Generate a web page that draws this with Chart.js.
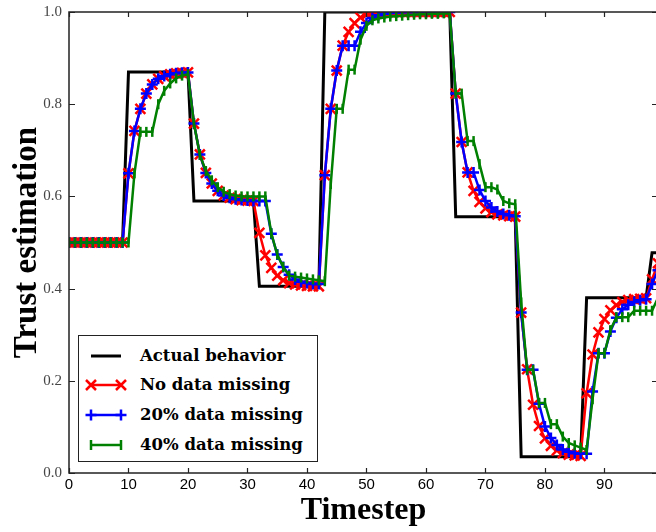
<!DOCTYPE html>
<html><head><meta charset="utf-8">
<script src="https://cdn.jsdelivr.net/npm/chart.js@4.4.0/dist/chart.umd.min.js"></script>
<style>
html,body{margin:0;padding:0;background:#fff;}
#wrap{position:relative;width:656px;height:532px;overflow:hidden;background:#fff;}
#inner{position:absolute;left:0;top:0;width:662px;height:532px;}
#c{position:absolute;left:0;top:0;}
#legend{position:absolute;left:78px;top:335px;width:238px;height:125px;border:1.5px solid #222;background:#fff;box-sizing:content-box;}
#legend canvas{position:absolute;left:0;top:0;}
#legend span{position:absolute;left:61px;height:20px;line-height:20px;font-family:"DejaVu Serif";font-weight:bold;font-size:16.5px;color:#000;white-space:nowrap;}
</style></head>
<body>
<div id="wrap">
<div id="inner"><canvas id="c" width="662" height="532"></canvas></div>
<div id="legend"><canvas id="lg" width="60" height="125"></canvas></div>
</div>
<script>
// ---- data ----
const timesteps = [0,1,2,3,4,5,6,7,8,9,10,11,12,13,14,15,16,17,18,19,20,21,22,23,24,25,26,27,28,29,30,31,32,33,34,35,36,37,38,39,40,41,42,43,44,45,46,47,48,49,50,51,52,53,54,55,56,57,58,59,60,61,62,63,64,65,66,67,68,69,70,71,72,73,74,75,76,77,78,79,80,81,82,83,84,85,86,87,88,89,90,91,92,93,94,95,96,97,98,99];

const seriesNames = ['Actual behavior','No data missing','20% data missing','40% data missing'];

const actualBehavior = [
0.5,0.5,0.5,0.5,0.5,0.5,0.5,0.5,0.5,0.5,
0.87,0.87,0.87,0.87,0.87,0.87,0.87,0.87,0.87,0.87,0.87,
0.59,0.59,0.59,0.59,0.59,0.59,0.59,0.59,0.59,0.59,0.59,
0.405,0.405,0.405,0.405,0.405,0.405,0.405,0.405,0.405,0.405,0.405,
1.0,1.0,1.0,1.0,1.0,1.0,1.0,1.0,1.0,1.0,1.0,1.0,1.0,1.0,1.0,1.0,1.0,1.0,1.0,1.0,1.0,1.0,
0.556,0.556,0.556,0.556,0.556,0.556,0.556,0.556,0.556,0.556,0.556,
0.035,0.035,0.035,0.035,0.035,0.035,0.035,0.035,0.035,0.035,0.035,
0.38,0.38,0.38,0.38,0.38,0.38,0.38,0.38,0.38,0.38,0.38,
0.478,0.478];

const noDataMissing = [
0.5,0.5,0.5,0.5,0.5,0.5,0.5,0.5,0.5,0.5,
0.65,0.742,0.79,0.823,0.843,0.855,0.861,0.865,0.867,0.868,0.869,
0.758,0.691,0.651,0.628,0.612,0.602,0.597,0.594,0.592,0.591,0.59,
0.521,0.472,0.445,0.428,0.418,0.412,0.409,0.407,0.406,0.405,0.405,
0.646,0.79,0.873,0.927,0.957,0.976,0.988,0.994,0.997,0.998,0.999,1.0,1.0,1.0,1.0,1.0,1.0,1.0,1.0,1.0,1.0,1.0,
0.823,0.718,0.652,0.612,0.588,0.574,0.566,0.561,0.559,0.557,0.556,
0.348,0.225,0.148,0.102,0.075,0.059,0.049,0.043,0.04,0.038,0.037,
0.173,0.257,0.305,0.334,0.353,0.364,0.371,0.375,0.377,0.378,0.379,
0.42,0.455];

const missing20 = [
0.5,0.5,0.5,0.5,0.5,0.5,0.5,0.5,0.5,0.5,
0.65,0.742,0.79,0.823,0.843,0.855,0.861,0.865,0.867,0.868,0.869,
0.758,0.691,0.651,0.628,0.612,0.602,0.597,0.594,0.592,0.591,0.59,
0.59,0.59,0.519,0.474,0.447,0.43,0.42,0.415,0.412,0.41,0.41,
0.646,0.79,0.873,0.927,0.927,0.927,0.957,0.976,0.987,0.993,0.996,0.998,0.999,1.0,1.0,1.0,1.0,1.0,1.0,1.0,1.0,1.0,
0.823,0.718,0.652,0.652,0.614,0.59,0.576,0.567,0.562,0.559,0.557,
0.348,0.224,0.224,0.15,0.101,0.076,0.061,0.051,0.046,0.043,0.042,
0.042,0.177,0.26,0.26,0.307,0.337,0.355,0.365,0.371,0.375,0.377,
0.41,0.44];

const missing40 = [
0.5,0.5,0.5,0.5,0.5,0.5,0.5,0.5,0.5,0.5,
0.5,0.65,0.74,0.74,0.74,0.80,0.829,0.845,0.856,0.862,0.865,
0.758,0.69,0.655,0.635,0.62,0.61,0.605,0.602,0.6,0.6,0.6,
0.6,0.6,0.52,0.474,0.447,0.428,0.426,0.424,0.422,0.42,0.418,
0.416,0.627,0.79,0.79,0.875,0.875,0.94,0.97,0.982,0.986,0.988,0.99,0.991,0.992,0.993,0.994,0.995,0.995,0.996,0.996,0.997,0.997,
0.823,0.823,0.72,0.72,0.67,0.62,0.62,0.615,0.59,0.585,0.583,
0.37,0.224,0.224,0.152,0.152,0.106,0.106,0.079,0.065,0.06,0.055,
0.05,0.16,0.26,0.26,0.31,0.338,0.338,0.338,0.352,0.352,0.352,
0.352,0.38];

const xTickStep = 10;
const yTickStep = 0.2;

// ---- helpers ----
function pts(vals){ return timesteps.map((t,i)=>({x:t, y:vals[i]})); }

const framePlugin = {
  id:'frame',
  afterDatasetsDraw(chart){
    const {ctx, chartArea:a, scales:{x, y}} = chart;
    ctx.save();
    ctx.strokeStyle = '#222';
    ctx.lineWidth = 1.5;
    ctx.strokeRect(a.left, a.top, a.right - a.left, a.bottom - a.top);
    ctx.lineWidth = 1.2;
    ctx.beginPath();
    x.ticks.forEach(t=>{
      const px = Math.round(x.getPixelForValue(t.value)) + 0.5;
      ctx.moveTo(px, a.bottom); ctx.lineTo(px, a.bottom - 5);
      ctx.moveTo(px, a.top); ctx.lineTo(px, a.top + 5);
    });
    y.ticks.forEach(t=>{
      const py = Math.round(y.getPixelForValue(t.value)) + 0.5;
      ctx.moveTo(a.left, py); ctx.lineTo(a.left + 6, py);
      ctx.moveTo(a.right, py); ctx.lineTo(a.right - 6, py);
    });
    ctx.stroke();
    ctx.restore();
  }
};

const colors = ['#000000','#ff0000','#0000ff','#008000'];

new Chart(document.getElementById('c'), {
  type:'line',
  data:{
    datasets:[
      {label:seriesNames[0], data:pts(actualBehavior), borderColor:colors[0], borderWidth:3, pointRadius:0, order:3},
      {label:seriesNames[1], data:pts(noDataMissing), borderColor:colors[1], borderWidth:2.5,
        pointStyle:'crossRot', pointRadius:7, pointBorderWidth:2.5, pointBorderColor:colors[1], pointBackgroundColor:colors[1], order:2},
      {label:seriesNames[2], data:pts(missing20), borderColor:colors[2], borderWidth:2.5,
        pointStyle:'cross', pointRadius:5.5, pointBorderWidth:2.5, pointBorderColor:colors[2], pointBackgroundColor:colors[2], order:1},
      {label:seriesNames[3], data:pts(missing40), borderColor:colors[3], borderWidth:2.5,
        pointStyle:'line', pointRotation:90, pointRadius:5, pointBorderWidth:2.5, pointBorderColor:colors[3], pointBackgroundColor:colors[3], order:0}
    ]
  },
  options:{
    responsive:false, animation:false, devicePixelRatio:1,
    layout:{autoPadding:false, padding:{top:12,right:4,left:0,bottom:0}},
    plugins:{legend:{display:false}, tooltip:{enabled:false}},
    elements:{line:{tension:0}, point:{hoverRadius:0}},
    events:[],
    scales:{
      x:{type:'linear', min:0, max:99,
        afterFit(s){ s.height = 59; s.paddingLeft = 0; s.paddingRight = 0; },
        grid:{display:false, drawTicks:false}, border:{display:false},
        ticks:{stepSize:xTickStep, includeBounds:false, padding:3, color:'#000', maxRotation:0,
          font:{family:'"Liberation Sans"', size:15}},
        title:{display:true, text:'Timestep', color:'#000', padding:{top:0,bottom:2},
          font:{family:'"Liberation Serif"', size:32, weight:'bold'}}
      },
      y:{type:'linear', min:0, max:1,
        afterFit(s){ s.width = 69; s.paddingTop = 0; s.paddingBottom = 0; },
        grid:{display:false, drawTicks:false}, border:{display:false},
        ticks:{stepSize:yTickStep, padding:7, color:'#444', callback:v=>Number(v).toFixed(1),
          font:{family:'"Liberation Serif"', size:15}},
        title:{display:true, text:'Trust estimation', color:'#000', padding:{top:8,bottom:0},
          font:{family:'"Liberation Serif"', size:33, weight:'bold'}}
      }
    }
  },
  plugins:[framePlugin]
});

// ---- legend (HTML text + small sample glyphs) ----
const legendRows = [20, 49, 79, 109];
const lg = document.getElementById('lg').getContext('2d');
const legendEl = document.getElementById('legend');
function marker(ctx, style, x, y){
  ctx.beginPath();
  if(style==='crossRot'){ const r=5; ctx.moveTo(x-r,y-r); ctx.lineTo(x+r,y+r); ctx.moveTo(x-r,y+r); ctx.lineTo(x+r,y-r); }
  else if(style==='cross'){ const r=5.5; ctx.moveTo(x-r,y); ctx.lineTo(x+r,y); ctx.moveTo(x,y-r); ctx.lineTo(x,y+r); }
  else if(style==='line'){ const r=5; ctx.moveTo(x,y-r); ctx.lineTo(x,y+r); }
  ctx.stroke();
}
const legendStyles = [null,'crossRot','cross','line'];
seriesNames.forEach((name,i)=>{
  const y = legendRows[i];
  lg.strokeStyle = colors[i];
  lg.lineWidth = i===0 ? 3 : 2.5;
  lg.beginPath(); lg.moveTo(12,y); lg.lineTo(42,y); lg.stroke();
  if(legendStyles[i]){ lg.lineWidth = 2.5; marker(lg, legendStyles[i], 12, y); marker(lg, legendStyles[i], 42, y); }
  const sp = document.createElement('span');
  sp.textContent = name;
  sp.style.top = (y - 10) + 'px';
  legendEl.appendChild(sp);
});
</script>
</body></html>
